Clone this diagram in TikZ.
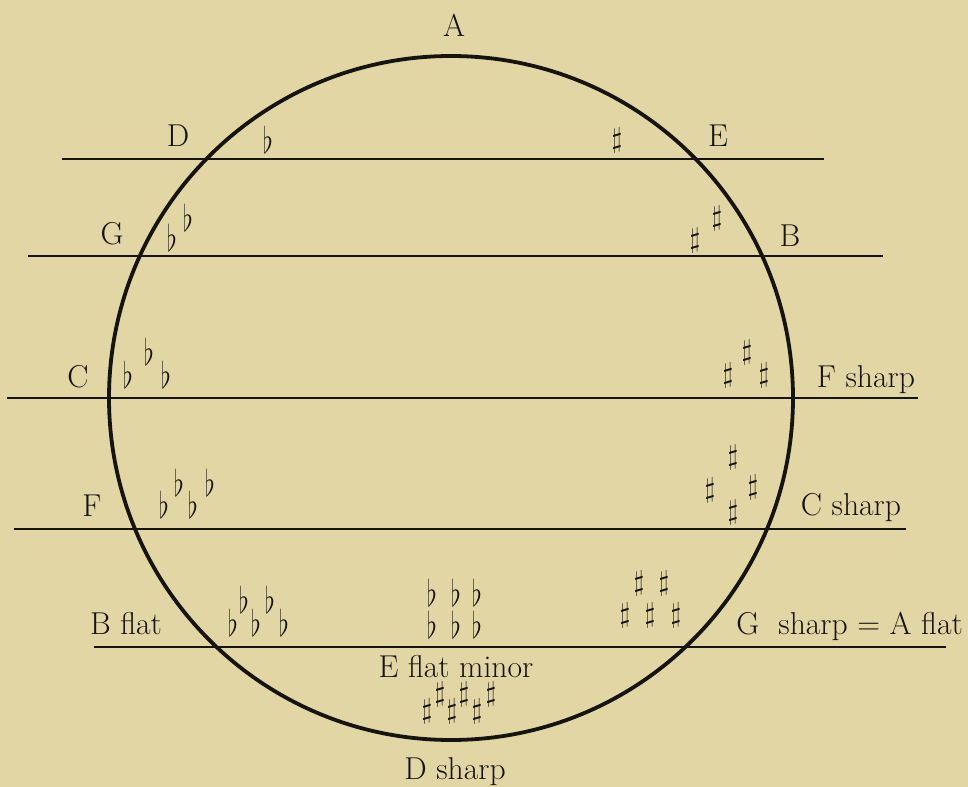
\documentclass[tikz,border=0pt]{standalone}
\usepackage{fix-cm}
\usepackage{graphicx}
\usetikzlibrary{positioning}
\definecolor{papercol}{RGB}{226,214,165}
\definecolor{inkcol}{RGB}{22,20,16}
\newcommand{\narrowflat}{\scalebox{0.72}[1]{$\flat$}}

\begin{document}
\begin{tikzpicture}[
    x=0.025cm, y=-0.025cm,
    keyname/.style = {anchor=base, inner sep=0pt, text=inkcol, font=\fontsize{22.5}{27}\selectfont},
    flatacc/.style = {inner sep=0pt, text=inkcol, font=\fontsize{26}{30}\selectfont},
    sharpacc/.style = {inner sep=0pt, text=inkcol, font=\fontsize{20}{22}\selectfont},
    keyline/.style = {draw=inkcol, line width=1.1pt},
    ring/.style = {draw=inkcol, line width=2.7pt}
]

    % PAPER
    \useasboundingbox[fill=papercol] (0,0) rectangle (968,787);

    % CIRCLE OF KEYS
    \coordinate (centre) at (451,398);
    \draw[ring] (centre) circle[radius=342];

    % HORIZONTAL LINES
    \coordinate (de-l) at (62,159);  \coordinate (de-r) at (824,159);
    \coordinate (gb-l) at (28,256);  \coordinate (gb-r) at (883,256);
    \coordinate (cf-l) at (7,398);   \coordinate (cf-r) at (918,398);
    \coordinate (fc-l) at (14,529);  \coordinate (fc-r) at (906,529);
    \coordinate (ba-l) at (94,647);  \coordinate (ba-r) at (946,647);
    \foreach \ln in {de, gb, cf, fc, ba}
        \draw[keyline] (\ln-l) -- (\ln-r);

    % KEY NAMES
    \node[keyname] (keyA) at (454,37) {A};
    \node[keyname] (keyD) at (178,147) {D};
    \node[keyname] (keyE) at (718,147) {E};
    \node[keyname] (keyG) at (112,245) {G};
    \node[keyname] (keyB) at (790,247) {B};
    \node[keyname] (keyC) at (78,388) {C};
    \node[keyname] (keyFs) at (866,388) {F sharp};
    \node[keyname] (keyF) at (92,516) {F};
    \node[keyname] (keyCs) at (851,515) {C sharp};
    \node[keyname] (keyBb) at (126,634) {B flat};
    \node[keyname, anchor=base east] (keyGs) at (963,634) {G\ \ sharp = A flat};
    \node[keyname] (keyEbm) at (456,677) {E flat minor};
    \node[keyname] (keyDs) at (455,779) {D sharp};

    % FLATS
    \foreach \i/\px/\py in {1/268/140,
                            2/172/238, 3/188/218,
                            4/128/375, 5/149/352, 6/166/375,
                            7/164/505, 8/179/483, 9/193/505, 10/210/483,
                            11/233/623, 12/256/623, 13/284/623, 14/244/600, 15/270/600,
                            16/432/593, 17/456/593, 18/477/593, 19/432/625, 20/456/625, 21/477/625}
        \node[flatacc] (flat\i) at (\px,\py) {\narrowflat};

    % SHARPS
    \foreach \i/\px/\py in {1/617/140,
                            2/695/240, 3/717/218,
                            4/728/375, 5/747/352, 6/764/375,
                            7/733/457, 8/710/490, 9/753/487, 10/733/512,
                            11/639/583, 12/664/583, 13/625/615, 14/650/615, 15/676/615,
                            16/427/711, 17/452/711, 18/477/711, 19/440/694, 20/464/694, 21/491/694}
        \node[sharpacc] (sharp\i) at (\px,\py) {$\sharp$};

\end{tikzpicture}
\end{document}
